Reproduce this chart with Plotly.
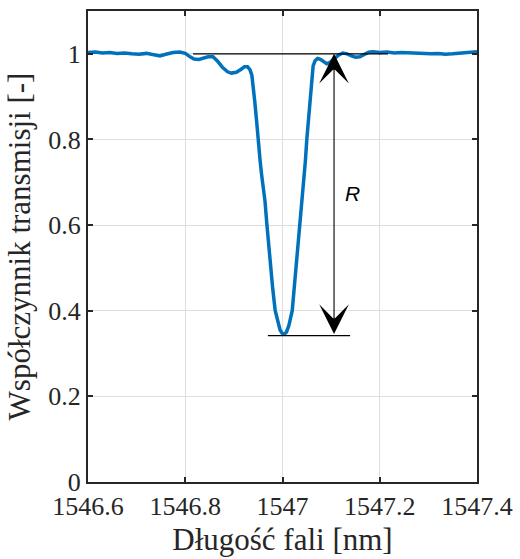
import plotly.graph_objects as go

# Spectrum data (wavelength in nm, transmission)
wavelength = [
    1546.600, 1546.615, 1546.630, 1546.645, 1546.660, 1546.675, 1546.690, 1546.705,
    1546.720, 1546.735, 1546.748, 1546.760, 1546.775, 1546.789, 1546.800, 1546.810,
    1546.818, 1546.828, 1546.837, 1546.847, 1546.857, 1546.867, 1546.877, 1546.887,
    1546.895, 1546.905, 1546.915, 1546.922, 1546.928, 1546.933, 1546.937, 1546.940,
    1546.943, 1546.947, 1546.950, 1546.954, 1546.957, 1546.961, 1546.964, 1546.968,
    1546.975, 1546.980, 1546.985, 1546.990, 1546.995, 1547.000, 1547.003, 1547.008,
    1547.013, 1547.020, 1547.028, 1547.036, 1547.040, 1547.043, 1547.047, 1547.050,
    1547.053, 1547.057, 1547.060, 1547.063, 1547.067, 1547.072, 1547.078, 1547.085,
    1547.091, 1547.098, 1547.106, 1547.115, 1547.124, 1547.133, 1547.142, 1547.150,
    1547.159, 1547.168, 1547.177, 1547.186, 1547.200, 1547.215, 1547.230, 1547.245,
    1547.260, 1547.275, 1547.290, 1547.305, 1547.320, 1547.335, 1547.350, 1547.365,
    1547.380, 1547.400,
]
transmission = [
    1.003, 1.004, 1.002, 1.003, 1.001, 1.002, 1.000, 0.999,
    1.001, 0.998, 0.995, 0.999, 1.003, 1.004, 1.001, 0.993,
    0.988, 0.987, 0.990, 0.993, 0.993, 0.982, 0.968, 0.958,
    0.955, 0.957, 0.964, 0.970, 0.970, 0.963, 0.950, 0.925,
    0.888, 0.840, 0.795, 0.750, 0.718, 0.680, 0.656, 0.600,
    0.500, 0.450, 0.400, 0.375, 0.355, 0.346, 0.345, 0.350,
    0.365, 0.400, 0.500, 0.600, 0.656, 0.700, 0.749, 0.800,
    0.842, 0.905, 0.945, 0.972, 0.984, 0.989, 0.987, 0.981,
    0.977, 0.980, 0.988, 0.997, 1.002, 1.000, 0.995, 0.992,
    0.993, 0.999, 1.004, 1.005, 1.003, 1.004, 1.002, 1.003,
    1.002, 1.000, 1.001, 1.000, 1.001, 0.999, 1.000, 1.001,
    1.002, 1.005,
]

x_ticks = [1546.6, 1546.8, 1547.0, 1547.2, 1547.4]
x_tick_labels = ["1546.6", "1546.8", "1547", "1547.2", "1547.4"]
y_ticks = [0, 0.2, 0.4, 0.6, 0.8, 1.0]
y_tick_labels = ["0", "0.2", "0.4", "0.6", "0.8", "1"]

# Depth annotation (R)
r_top = 1.0
r_bottom = 0.342
r_arrow_x = 1547.106
top_line_span = [1546.816, 1547.217]
bottom_line_span = [1546.970, 1547.139]
r_label_pos = [1547.143, 0.674]

AX = "#262626"
SERIF = "Liberation Serif, Times New Roman, serif"

fig = go.Figure()
fig.add_trace(go.Scatter(
    x=wavelength, y=transmission, mode="lines",
    line=dict(color="#0072BD", width=3.5),
    showlegend=False,
))

fig.add_shape(type="line", xref="x", yref="y",
              x0=top_line_span[0], x1=top_line_span[1], y0=r_top, y1=r_top,
              line=dict(color="black", width=1.3))
fig.add_shape(type="line", xref="x", yref="y",
              x0=bottom_line_span[0], x1=bottom_line_span[1], y0=r_bottom, y1=r_bottom,
              line=dict(color="black", width=1.3))

fig.add_annotation(
    x=r_arrow_x, y=r_top, ax=r_arrow_x, ay=r_bottom,
    xref="x", yref="y", axref="x", ayref="y",
    showarrow=True, arrowhead=3, startarrowhead=3, arrowside="end+start",
    arrowsize=4.5, startarrowsize=4.5, arrowwidth=1.1, arrowcolor="black", text="",
    standoff=0, startstandoff=0,
)
fig.add_annotation(
    x=r_label_pos[0], y=r_label_pos[1], xref="x", yref="y",
    text="<i>R</i>", showarrow=False,
    font=dict(family="Liberation Sans, Arial, sans-serif", size=21, color="black"),
)

fig.update_xaxes(
    range=[1546.6, 1547.4], tickvals=x_ticks, ticktext=x_tick_labels,
    showgrid=True, gridcolor="#dedede", gridwidth=1, zeroline=False,
    showline=True, linecolor=AX, linewidth=2, mirror="allticks",
    ticks="inside", ticklen=5, tickwidth=1.5, tickcolor=AX, automargin=False,
    tickfont=dict(family=SERIF, size=26, color=AX),
    title=dict(text="Długość fali [nm]", font=dict(family=SERIF, size=31, color=AX), standoff=8),
)
fig.update_yaxes(
    range=[0, 1.1], tickvals=y_ticks, ticktext=y_tick_labels,
    showgrid=True, gridcolor="#dedede", gridwidth=1, zeroline=False,
    showline=True, linecolor=AX, linewidth=2, mirror="allticks",
    ticks="inside", ticklen=5, tickwidth=1.5, tickcolor=AX, automargin=False,
    tickfont=dict(family=SERIF, size=26, color=AX),
    title=dict(text="Współczynnik transmisji [-]", font=dict(family=SERIF, size=31, color=AX), standoff=8),
)

fig.update_layout(
    width=520, height=559,
    margin=dict(l=88, r=43, t=11, b=77),
    paper_bgcolor="white", plot_bgcolor="white",
    font=dict(family=SERIF, color=AX),
)

fig.write_html("out.html")
